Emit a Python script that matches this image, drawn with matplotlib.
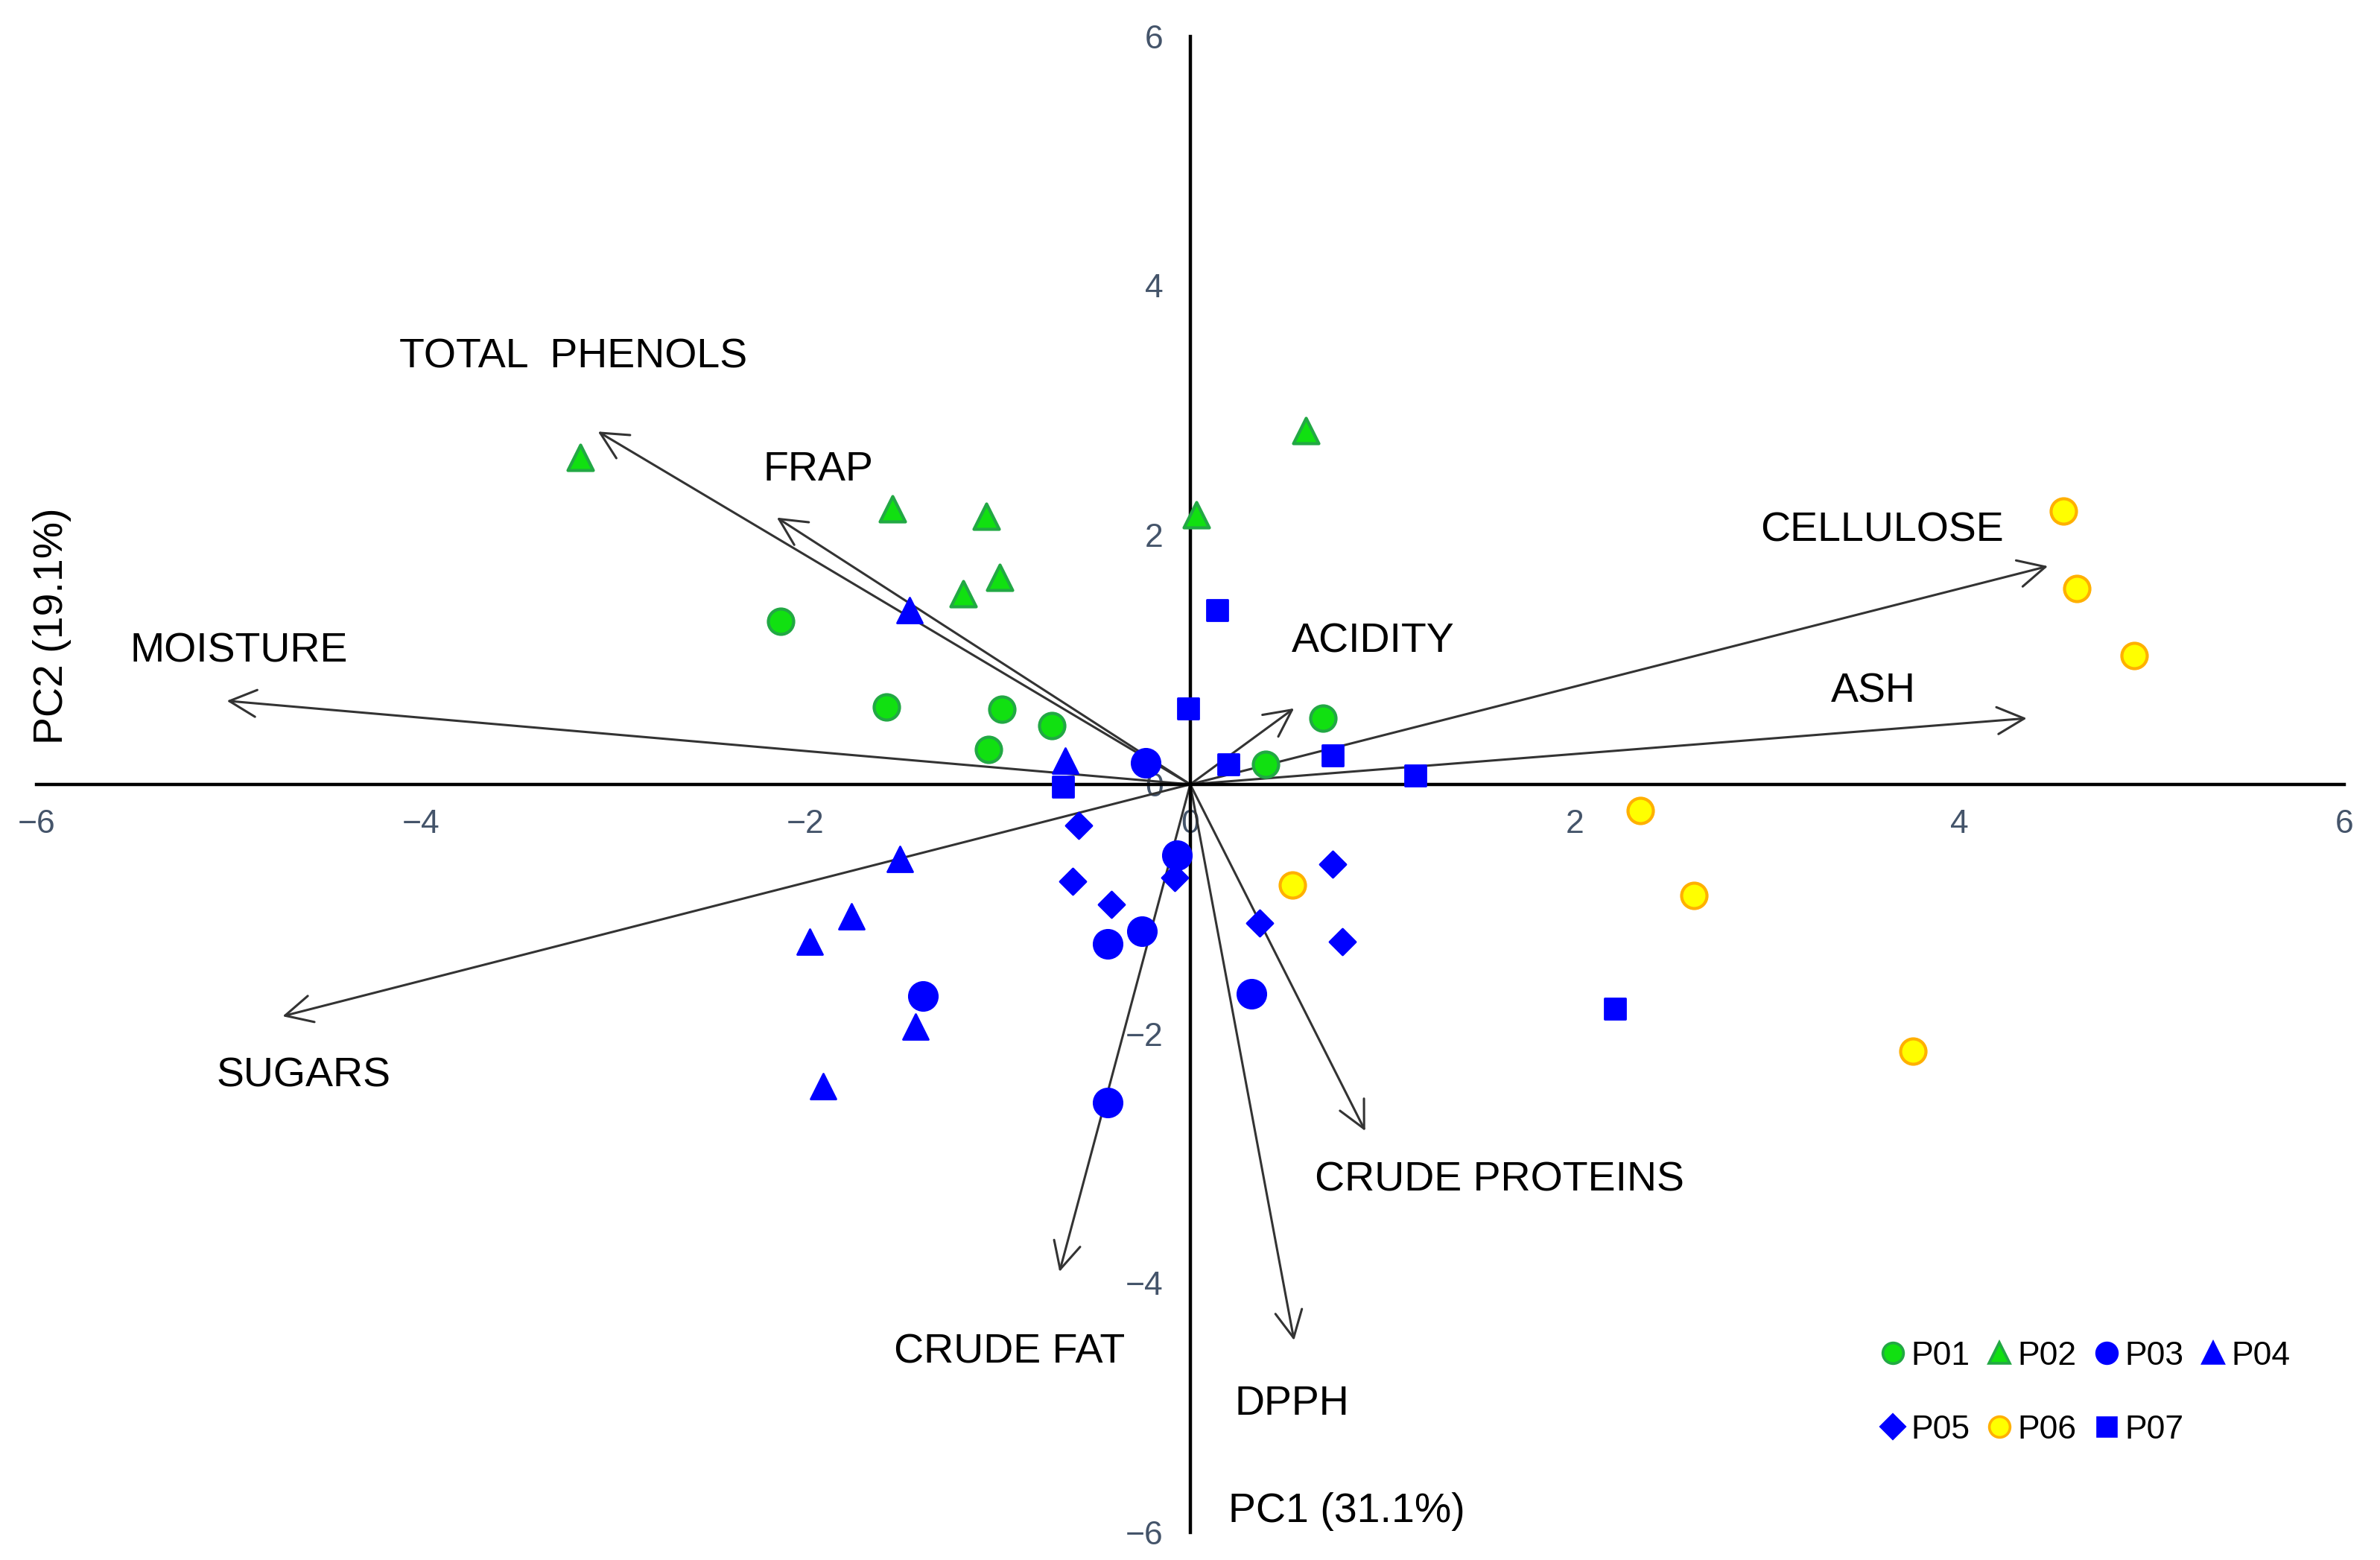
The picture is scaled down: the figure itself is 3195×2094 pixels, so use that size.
import matplotlib.pyplot as plt
from matplotlib.lines import Line2D

plt.rcParams['font.family'] = ['Liberation Sans', 'DejaVu Sans']

# sample scores (PC1, PC2)
p01_x = [-2.13, -1.58, -0.98, -0.72, -1.05, 0.69, 0.39]
p01_y = [1.31, 0.62, 0.60, 0.47, 0.28, 0.53, 0.16]
p02_x = [-3.17, -1.55, -1.06, 0.03, 0.60, -1.18, -0.99]
p02_y = [2.62, 2.21, 2.15, 2.16, 2.84, 1.53, 1.66]
p03_x = [-0.23, -0.07, -0.25, -0.43, -1.39, 0.32, -0.43]
p03_y = [0.17, -0.57, -1.18, -1.28, -1.70, -1.68, -2.55]
p04_x = [-1.46, -0.65, -1.51, -1.76, -1.98, -1.43, -1.91]
p04_y = [1.40, 0.19, -0.60, -1.06, -1.26, -1.94, -2.42]
p05_x = [-0.58, -0.61, -0.41, -0.08, 0.36, 0.74, 0.79]
p05_y = [-0.33, -0.78, -0.96, -0.75, -1.11, -0.64, -1.26]
p06_x = [4.54, 4.61, 4.91, 2.34, 2.62, 0.53, 3.76]
p06_y = [2.19, 1.57, 1.03, -0.21, -0.89, -0.81, -2.14]
p07_x = [0.14, -0.01, 0.20, 0.74, 1.17, -0.66, 2.21]
p07_y = [1.40, 0.61, 0.16, 0.23, 0.07, -0.02, -1.80]

# variable loadings (arrow tips)
variables = ['TOTAL  PHENOLS', 'FRAP', 'MOISTURE', 'SUGARS', 'CRUDE FAT',
             'DPPH', 'CRUDE PROTEINS', 'ACIDITY', 'CELLULOSE', 'ASH']
load_x = [-3.08, -2.15, -5.01, -4.72, -0.68, 0.54, 0.91, 0.54, 4.46, 4.35]
load_y = [2.83, 2.14, 0.67, -1.86, -3.91, -4.46, -2.78, 0.61, 1.75, 0.53]

ticks = [-6, -4, -2, 0, 2, 4, 6]

green, green_edge = '#11E011', '#22A844'
blue = '#0000FF'
yellow, yellow_edge = '#FFFF00', '#FFB000'

fig = plt.figure(figsize=(15.975, 10.47), dpi=200)
ax = fig.add_axes([0.0153, 0.0177, 0.9696, 0.959])
ax.set_xlim(-6, 6)
ax.set_ylim(-6, 6)
for s in ['top', 'right']:
    ax.spines[s].set_visible(False)
for s in ['left', 'bottom']:
    ax.spines[s].set_position('zero')
    ax.spines[s].set_linewidth(1.6)
ax.set_xticks(ticks)
ax.set_yticks(ticks)
ax.tick_params(length=0, labelsize=16, labelcolor='#44546A')
ax.tick_params(axis='x', pad=12)
ax.tick_params(axis='y', pad=13)

# label offsets in points from the arrow tips
offsets = [(-12, 36), (20, 23), (6, 24), (10, -29), (-24, -39),
           (-1, -31), (65, -24), (38, 32), (-80, 17), (-74, 13)]
for name, tx, ty, off in zip(variables, load_x, load_y, offsets):
    ax.annotate('', xy=(tx, ty), xytext=(0, 0),
                arrowprops=dict(arrowstyle='->, head_length=0.5, head_width=0.25',
                                color='#333333', lw=1.1, mutation_scale=26,
                                shrinkA=0, shrinkB=0), zorder=2)
    ax.annotate(name, xy=(tx, ty), xytext=off, textcoords='offset points',
                ha='center', va='center', fontsize=20, color='black')

ax.scatter(p01_x, p01_y, s=150, marker='o', c=green, edgecolors=green_edge, linewidths=1.5, zorder=3)
ax.scatter(p02_x, p02_y, s=150, marker='^', c=green, edgecolors=green_edge, linewidths=1.5, zorder=3)
ax.scatter(p03_x, p03_y, s=190, marker='o', c=blue, edgecolors=blue, linewidths=1, zorder=3)
ax.scatter(p04_x, p04_y, s=150, marker='^', c=blue, edgecolors=blue, linewidths=1, zorder=3)
ax.scatter(p05_x, p05_y, s=80, marker='D', c=blue, edgecolors=blue, linewidths=1, zorder=3)
ax.scatter(p06_x, p06_y, s=150, marker='o', c=yellow, edgecolors=yellow_edge, linewidths=1.5, zorder=3)
ax.scatter(p07_x, p07_y, s=100, marker='s', c=blue, edgecolors=blue, linewidths=1, zorder=3)

def h(marker, fc, ec, ms=10):
    return Line2D([], [], ls='none', marker=marker, markerfacecolor=fc,
                  markeredgecolor=ec, markersize=ms, markeredgewidth=1.3)

handles = {
    'P01': h('o', green, green_edge),
    'P02': h('^', green, green_edge),
    'P03': h('o', blue, blue),
    'P04': h('^', blue, blue),
    'P05': h('D', blue, blue, 8),
    'P06': h('o', yellow, yellow_edge),
    'P07': h('s', blue, blue, 9),
}
order = ['P01', 'P05', 'P02', 'P06', 'P03', 'P07', 'P04']
ax.legend([handles[k] for k in order], order, ncol=4, frameon=False,
          fontsize=16, loc='center', bbox_to_anchor=(0.876, 0.107),
          bbox_transform=fig.transFigure, handlelength=0.8, handletextpad=0.15,
          columnspacing=0.5, labelspacing=1.3)

fig.text(0.022, 0.599, 'PC2 (19.1%)', rotation=90, fontsize=20, ha='center', va='center')
fig.text(0.566, 0.031, 'PC1 (31.1%)', fontsize=20, ha='center', va='center')

fig.savefig('out.png', dpi=200)
